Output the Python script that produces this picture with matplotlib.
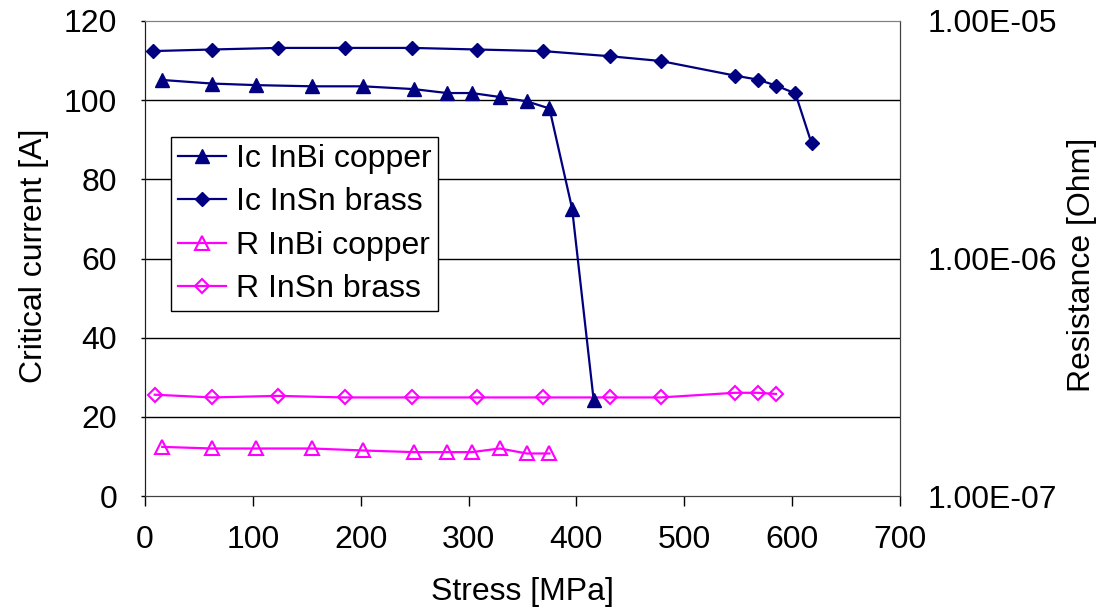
import matplotlib
matplotlib.use("Agg")
import matplotlib.pyplot as plt
from matplotlib.ticker import FixedLocator, NullLocator, FixedFormatter

plt.rcParams['font.family'] = ['Liberation Sans', 'DejaVu Sans']

# ---- data ----
ic_inbi_x = [16, 62, 103, 155, 202, 249, 280, 303, 329, 354, 375, 396, 416]
ic_inbi_y = [105.1, 104.2, 103.8, 103.5, 103.5, 102.8, 101.8, 101.8, 100.8, 99.7, 97.9, 72.6, 24.2]

ic_insn_x = [7, 62, 123, 185, 248, 308, 369, 431, 478, 547, 568, 585, 603, 618]
ic_insn_y = [112.4, 112.8, 113.2, 113.2, 113.2, 112.8, 112.4, 111.1, 109.9, 106.2, 105.2, 103.7, 101.7, 89.1]

r_inbi_x = [16, 62, 103, 155, 202, 249, 280, 303, 329, 354, 375]
r_inbi_y = [1.61e-7, 1.585e-7, 1.585e-7, 1.585e-7, 1.555e-7, 1.53e-7, 1.53e-7, 1.53e-7, 1.585e-7, 1.51e-7, 1.51e-7]

r_insn_x = [9, 62, 123, 185, 248, 308, 369, 431, 478, 547, 568, 585]
r_insn_y = [2.67e-7, 2.60e-7, 2.64e-7, 2.60e-7, 2.60e-7, 2.60e-7, 2.60e-7, 2.60e-7, 2.60e-7, 2.72e-7, 2.72e-7, 2.69e-7]

left_ticks = [0, 20, 40, 60, 80, 100, 120]
x_ticks = [0, 100, 200, 300, 400, 500, 600, 700]
right_ticks = [1e-7, 1e-6, 1e-5]
right_labels = ['1.00E-07', '1.00E-06', '1.00E-05']

navy = '#000080'
magenta = '#FF00FF'
FS = 23

fig = plt.figure(figsize=(11.02, 6.10), dpi=100)
ax = fig.add_axes([145/1102, 1-496/610, 755/1102, 475/610])
ax2 = ax.twinx()

ax.set_xlim(0, 700)
ax.set_ylim(0, 120)
ax2.set_yscale('log')
ax2.set_ylim(1e-7, 1e-5)

for v in left_ticks[1:-1]:
    ax.axhline(v, color='black', lw=1.0, zorder=0)

l1, = ax.plot(ic_inbi_x, ic_inbi_y, color=navy, lw=1.6, marker='^', ms=10,
              mfc=navy, mec=navy, label='Ic InBi copper', zorder=5)
l2, = ax.plot(ic_insn_x, ic_insn_y, color=navy, lw=1.6, marker='D', ms=7.5,
              mfc=navy, mec=navy, label='Ic InSn brass', zorder=5)
l3, = ax2.plot(r_inbi_x, r_inbi_y, color=magenta, lw=1.6, marker='^', ms=10,
               mfc='none', mec=magenta, mew=1.5, label='R InBi copper')
l4, = ax2.plot(r_insn_x, r_insn_y, color=magenta, lw=1.6, marker='D', ms=7,
               mfc='none', mec=magenta, mew=1.5, label='R InSn brass')
ax.set_zorder(ax2.get_zorder() + 1)
ax.patch.set_visible(False)

ax.set_xticks(x_ticks)
ax.set_yticks(left_ticks)
ax.tick_params(axis='x', direction='out', length=7, width=1, pad=14, labelsize=FS)
ax.tick_params(axis='y', direction='out', length=3, width=1, pad=17, labelsize=FS)

ax2.yaxis.set_major_locator(FixedLocator(right_ticks))
ax2.yaxis.set_major_formatter(FixedFormatter(right_labels))
ax2.yaxis.set_minor_locator(NullLocator())
ax2.tick_params(axis='y', length=0, pad=20, labelsize=FS)

for a in (ax, ax2):
    a.spines['top'].set_color('#808080')
    a.spines['right'].set_color('#404040')
    a.spines['left'].set_color('#202020')
    a.spines['bottom'].set_color('#404040')

fig.text(34/1102, 1-256/610, 'Critical current [A]', rotation=90, ha='center', va='center', fontsize=FS)
fig.text(1082/1102, 1-265/610, 'Resistance [Ohm]', rotation=90, ha='center', va='center', fontsize=FS)
fig.text(522/1102, 1-592/610, 'Stress [MPa]', ha='center', va='center', fontsize=FS)

leg = ax.legend(handles=[l1, l2, l3, l4], loc='upper left',
                bbox_to_anchor=((171-145)/755, 1-(137-21)/475),
                borderaxespad=0, fontsize=FS, frameon=True, fancybox=False,
                edgecolor='black', framealpha=1, handlelength=1.5,
                handletextpad=0.3, labelspacing=0.42, borderpad=0.22)
leg.get_frame().set_linewidth(1.0)
leg.set_zorder(10)

fig.savefig('out.png', dpi=100)
